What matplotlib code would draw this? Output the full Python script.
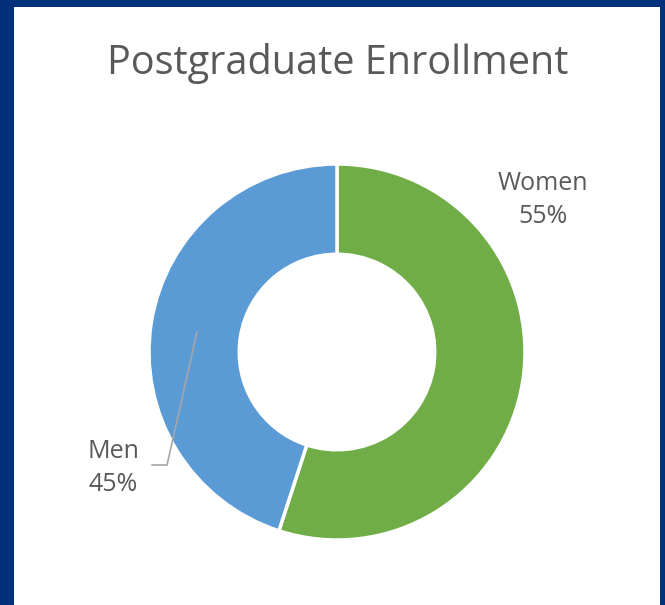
import matplotlib.pyplot as plt
from matplotlib.patches import Rectangle

# chart data
labels = ["Women", "Men"]
shares = [55, 45]
colors = ["#70AD47", "#5B9BD5"]

W, H = 665, 605
fig = plt.figure(figsize=(W / 100, H / 100), dpi=100)
fig.patch.set_facecolor("#02307A")
ax = fig.add_axes([0, 0, 1, 1])
ax.axis("off")

# white panel inside the blue frame
ax.add_patch(Rectangle((14, 0), 646, H - 7, facecolor="white", edgecolor="none", zorder=0))

cx, cy, r = 337, H - 352, 188
ax.pie(shares, colors=colors, startangle=90, counterclock=False,
       center=(cx, cy), radius=r,
       wedgeprops=dict(width=r * 0.48, edgecolor="white", linewidth=2.5))
ax.set_xlim(0, W)
ax.set_ylim(0, H)
ax.set_aspect("auto")

font = "Open Sans"
grey = "#595959"
ax.text(338, H - 64, "Postgraduate Enrollment", ha="center", va="center",
        fontsize=28.5, color=grey, family=font)

# data labels
ax.text(543, H - 200, f"{labels[0]}\n{shares[0]}%", ha="center", va="center",
        fontsize=18, color=grey, family=font, linespacing=1.47)
ax.text(113, H - 468, f"{labels[1]}\n{shares[1]}%", ha="center", va="center",
        fontsize=18, color=grey, family=font, linespacing=1.47)
# leader line for Men
ax.plot([197, 167, 152], [H - 332, H - 465, H - 465], color="#A6A6A6", lw=1.2)

fig.savefig("out.png", dpi=100, facecolor=fig.get_facecolor())
